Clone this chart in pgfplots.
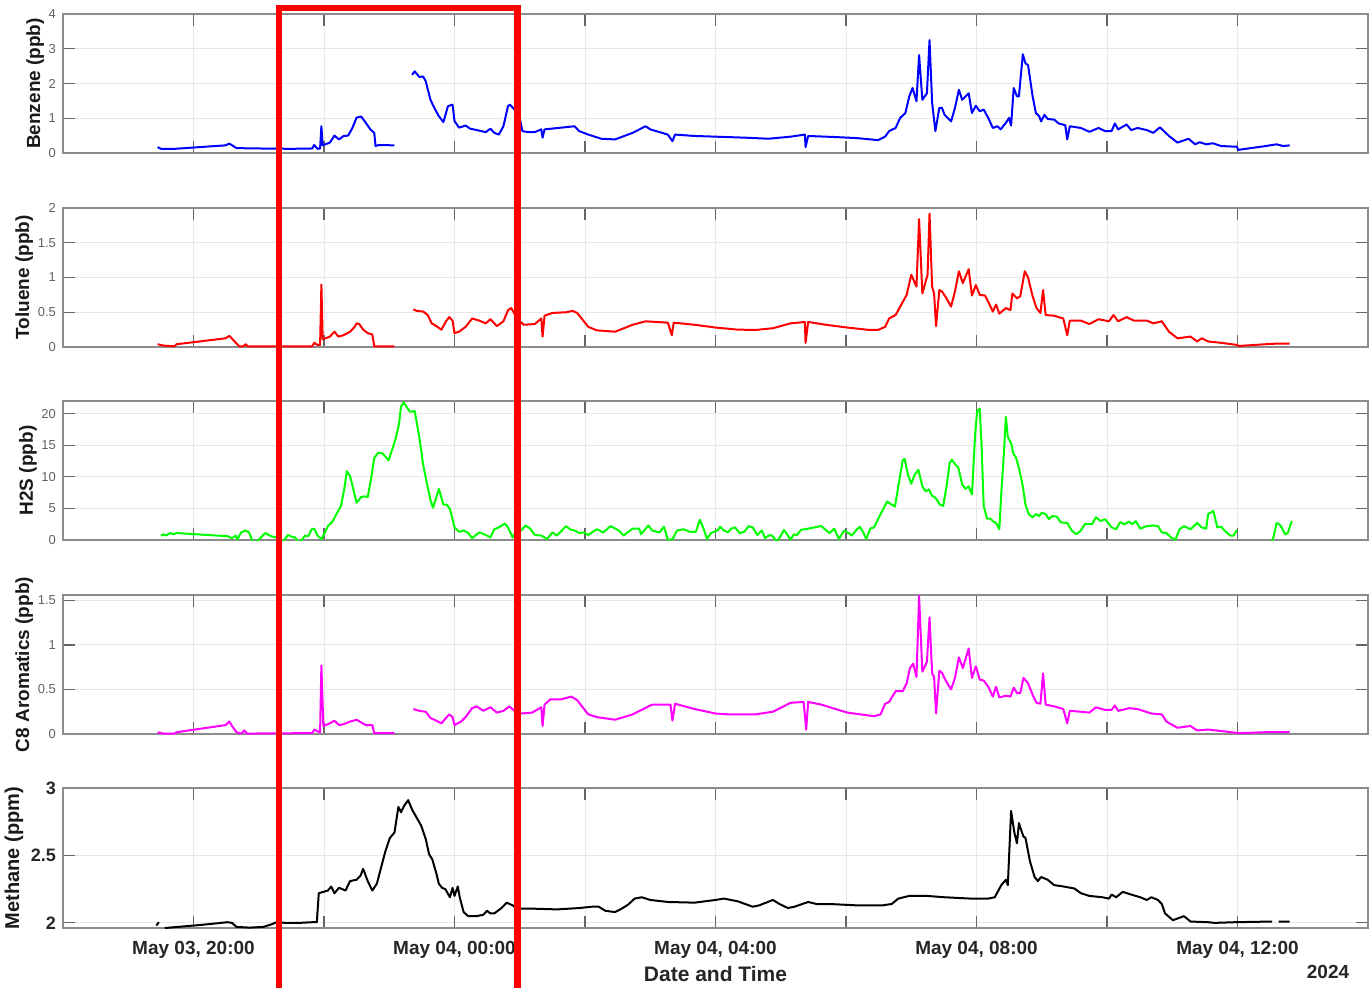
\documentclass[border=0pt]{standalone}
\usepackage{fontspec}
\setmainfont{Liberation Sans}
\usepackage{pgfplots}
\pgfplotsset{compat=1.18}
\definecolor{tickgray}{gray}{0.38}
\definecolor{boxgray}{gray}{0.55}
\definecolor{gridgray}{gray}{0.91}
\definecolor{mag}{rgb}{1,0,1}
\definecolor{grn}{rgb}{0,1,0}
\pgfplotsset{
 panel/.style={
  scale only axis, width=652.5pt, height=69.5pt, anchor=south west,
  xmin=18, xmax=38, xtick={20,22,...,36}, xticklabels={},
  grid=major, major grid style={draw=gridgray, line width=0.5pt},
  axis line style={draw=boxgray, line width=0.6pt},
  tick style={draw=gray!80!black, line width=0.6pt}, tick align=inside, major tick length=6pt,
  /pgf/number format/assume math mode=true,
  yticklabel style={font=\fontsize{6.5}{7}\selectfont, text=tickgray},
  ylabel style={font=\bfseries\fontsize{9.5}{10}\selectfont, text=black!90},
  ylabel shift=-4.5pt,
  unbounded coords=jump,
  every axis plot/.append style={line width=1pt, line join=round, mark=none},
 }
}
\begin{document}
\begin{tikzpicture}
\path[use as bounding box] (0,0) rectangle (685pt,493.5pt);
% Benzene
\begin{axis}[panel, at={(31.5pt,417pt)}, ymin=0, ymax=4, ytick={0,1,2,3,4}, ylabel={Benzene (ppb)}]
\addplot[blue] coordinates {(19.45,0.17)(19.50,0.12)(19.71,0.12)(20.49,0.22)(20.55,0.27)(20.66,0.14)(21.00,0.13)(21.50,0.12)(21.82,0.13)(21.85,0.23)(21.90,0.12)(21.94,0.13)(21.96,0.77)(21.98,0.22)(22.09,0.30)(22.16,0.50)(22.23,0.39)(22.30,0.49)(22.37,0.50)(22.43,0.70)(22.50,1.02)(22.57,1.05)(22.64,0.87)(22.71,0.68)(22.77,0.58)(22.79,0.20)(22.84,0.23)(23.08,0.22)(23.2,nan)
(23.35,2.25)(23.39,2.35)(23.46,2.19)(23.52,2.20)(23.56,2.06)(23.63,1.54)(23.69,1.30)(23.76,1.06)(23.83,0.89)(23.90,1.35)(23.97,1.39)(24.00,0.92)(24.07,0.73)(24.17,0.79)(24.24,0.70)(24.34,0.66)(24.48,0.60)(24.55,0.70)(24.61,0.58)(24.68,0.53)(24.75,0.77)(24.82,1.35)(24.85,1.39)(24.92,1.25)(24.99,1.10)(25.04,0.63)(25.13,0.60)(25.23,0.60)(25.33,0.68)(25.35,0.44)(25.38,0.68)(25.64,0.73)(25.84,0.77)(25.91,0.63)(26.05,0.53)(26.25,0.41)(26.46,0.39)(26.73,0.58)(26.93,0.77)(27.00,0.68)(27.27,0.53)(27.34,0.34)(27.38,0.53)(27.68,0.49)(28.00,0.47)(28.47,0.44)(28.81,0.41)(29.15,0.47)(29.37,0.53)(29.38,0.17)(29.42,0.49)(29.82,0.46)(30.16,0.43)(30.49,0.37)(30.60,0.47)(30.66,0.63)(30.76,0.72)(30.83,1.01)(30.91,1.15)(30.97,1.63)(31.02,1.87)(31.08,1.49)(31.12,2.82)(31.17,1.53)(31.24,1.72)(31.28,3.25)(31.32,1.44)(31.37,0.63)(31.43,1.30)(31.47,1.30)(31.51,1.10)(31.61,0.91)(31.67,1.30)(31.73,1.82)(31.78,1.53)(31.88,1.72)(31.93,1.15)(31.99,1.36)(32.05,1.20)(32.11,1.25)(32.18,1.01)(32.25,0.72)(32.32,0.77)(32.37,0.68)(32.45,0.87)(32.50,1.01)(32.53,0.79)(32.57,1.87)(32.62,1.63)(32.65,1.63)(32.71,2.84)(32.75,2.58)(32.79,2.53)(32.86,1.63)(32.91,1.15)(32.96,1.06)(32.99,0.91)(33.04,1.10)(33.09,0.98)(33.19,0.96)(33.26,0.85)(33.36,0.80)(33.39,0.39)(33.43,0.77)(33.60,0.72)(33.73,0.61)(33.87,0.72)(33.97,0.63)(34.07,0.63)(34.12,0.85)(34.17,0.68)(34.30,0.82)(34.37,0.66)(34.47,0.72)(34.61,0.66)(34.71,0.58)(34.81,0.74)(34.95,0.49)(35.08,0.30)(35.25,0.41)(35.35,0.25)(35.42,0.31)(35.52,0.25)(35.62,0.28)(35.75,0.20)(35.99,0.18)(36.01,0.09)(36.43,0.20)(36.60,0.25)(36.70,0.20)(36.80,0.22)};
\end{axis}
% Toluene
\begin{axis}[panel, at={(31.5pt,320pt)}, ymin=0, ymax=2, ytick={0,0.5,1,1.5,2}, ylabel={Toluene (ppb)}]
\addplot[red] coordinates {(19.45,0.04)(19.54,0.02)(19.71,0.01)(19.74,0.04)(20.49,0.125)(20.55,0.16)(20.63,0.08)(20.70,0.01)(20.76,0.01)(20.80,0.04)(20.83,0.01)(21.82,0.01)(21.85,0.06)(21.90,0.03)(21.94,0.03)(21.96,0.90)(21.98,0.11)(22.09,0.15)(22.16,0.22)(22.22,0.15)(22.30,0.17)(22.40,0.22)(22.47,0.29)(22.50,0.34)(22.54,0.33)(22.60,0.25)(22.67,0.20)(22.74,0.18)(22.77,0.01)(23.08,0.01)(23.2,nan)
(23.37,0.54)(23.42,0.52)(23.52,0.51)(23.59,0.46)(23.65,0.34)(23.69,0.32)(23.80,0.25)(23.87,0.37)(23.92,0.43)(23.97,0.38)(24.00,0.20)(24.07,0.22)(24.17,0.29)(24.27,0.41)(24.38,0.38)(24.48,0.34)(24.55,0.40)(24.65,0.30)(24.75,0.37)(24.82,0.53)(24.87,0.56)(24.96,0.41)(25.06,0.32)(25.23,0.33)(25.33,0.41)(25.35,0.15)(25.38,0.45)(25.50,0.49)(25.71,0.50)(25.81,0.52)(25.88,0.49)(26.05,0.29)(26.18,0.24)(26.46,0.22)(26.73,0.32)(26.93,0.37)(27.27,0.35)(27.33,0.17)(27.36,0.35)(27.68,0.32)(28.00,0.28)(28.34,0.25)(28.61,0.245)(28.88,0.27)(29.15,0.34)(29.37,0.36)(29.38,0.06)(29.42,0.36)(29.69,0.32)(30.02,0.28)(30.36,0.245)(30.49,0.245)(30.60,0.29)(30.66,0.41)(30.76,0.46)(30.83,0.58)(30.93,0.75)(31.00,1.04)(31.08,0.87)(31.12,1.84)(31.17,0.77)(31.25,1.04)(31.28,1.92)(31.32,0.87)(31.35,0.77)(31.38,0.30)(31.43,0.82)(31.47,0.80)(31.54,0.70)(31.61,0.58)(31.67,0.80)(31.73,1.09)(31.79,0.92)(31.88,1.12)(31.93,0.74)(31.99,0.89)(32.05,0.75)(32.13,0.74)(32.18,0.65)(32.25,0.51)(32.30,0.61)(32.35,0.48)(32.45,0.56)(32.52,0.53)(32.55,0.77)(32.62,0.70)(32.67,0.73)(32.74,1.09)(32.79,1.00)(32.86,0.73)(32.92,0.56)(32.98,0.49)(33.02,0.82)(33.06,0.46)(33.19,0.45)(33.33,0.41)(33.39,0.17)(33.43,0.38)(33.60,0.38)(33.73,0.33)(33.87,0.40)(34.03,0.37)(34.10,0.46)(34.17,0.37)(34.30,0.43)(34.41,0.38)(34.61,0.38)(34.71,0.34)(34.84,0.37)(34.95,0.22)(35.08,0.125)(35.28,0.15)(35.38,0.08)(35.45,0.125)(35.55,0.08)(35.75,0.06)(35.99,0.03)(36.02,0.015)(36.43,0.04)(36.63,0.05)(36.80,0.05)};
\end{axis}
% H2S
\begin{axis}[panel, at={(31.5pt,223.5pt)}, ymin=0, ymax=22, ytick={0,5,10,15,20}, ylabel={H2S (ppb)}]
\addplot[grn] coordinates {(19.50,0.7)(19.54,0.9)(19.58,0.7)(19.64,1.1)(19.69,0.9)(19.74,1.1)(20.52,0.6)(20.59,0.3)(20.65,0.7)(20.67,0.05)(20.73,1.2)(20.80,1.5)(20.85,1.2)(20.92,-0.5)(21.00,0.05)(21.10,1.1)(21.19,0.6)(21.27,0.4)(21.36,-0.4)(21.45,0.8)(21.51,0.5)(21.56,0.4)(21.62,-0.5)(21.67,0.15)(21.71,0.7)(21.76,0.6)(21.81,1.7)(21.85,1.8)(21.90,0.7)(21.96,0.15)(22.01,1.1)(22.06,2.2)(22.13,2.9)(22.19,4.1)(22.26,5.4)(22.31,8.0)(22.35,10.9)(22.40,10.1)(22.45,8.0)(22.50,5.9)(22.57,6.8)(22.62,6.9)(22.67,6.8)(22.72,9.6)(22.77,13.0)(22.83,13.8)(22.90,13.7)(22.94,13.2)(22.99,12.6)(23.05,14.5)(23.10,16.1)(23.15,18.4)(23.18,21.1)(23.22,21.8)(23.27,21.0)(23.32,20.3)(23.39,20.4)(23.46,16.3)(23.52,11.9)(23.58,8.8)(23.63,6.4)(23.67,5.1)(23.72,6.7)(23.76,8.1)(23.83,5.6)(23.88,5.6)(23.93,4.9)(24.00,2.0)(24.07,1.3)(24.14,1.5)(24.21,1.1)(24.27,0.3)(24.38,1.2)(24.48,0.8)(24.55,0.4)(24.61,1.7)(24.68,2.0)(24.77,2.6)(24.82,2.0)(24.89,0.4)(24.96,1.8)(25.02,1.5)(25.09,2.3)(25.16,1.8)(25.23,0.8)(25.33,0.7)(25.42,0.15)(25.50,1.2)(25.57,0.7)(25.71,2.2)(25.77,1.7)(25.84,1.5)(25.91,1.1)(25.98,1.2)(26.05,0.8)(26.18,1.7)(26.28,1.2)(26.39,2.2)(26.52,1.5)(26.59,0.7)(26.73,1.8)(26.83,1.8)(26.86,0.9)(26.97,2.3)(27.03,1.5)(27.14,1.2)(27.21,2.1)(27.27,0.05)(27.34,0.1)(27.41,1.5)(27.51,1.7)(27.61,1.3)
(27.70,1.3)(27.76,3.2)(27.81,2.0)(27.87,0.15)(27.93,1.1)(28.03,1.5)(28.07,2.1)(28.13,1.5)(28.19,1.2)(28.24,1.8)(28.30,2.0)(28.37,1.1)(28.44,1.3)(28.51,2.2)(28.57,2.0)(28.64,0.8)(28.71,1.5)(28.76,0.3)(28.80,0.6)(28.84,0.8)(28.89,0.5)(28.93,-0.3)(28.98,0.3)(29.05,1.6)(29.11,0.7)(29.15,0.05)(29.20,0.9)(29.25,0.8)(29.31,1.6)(29.42,1.8)(29.52,2.0)(29.62,2.2)(29.69,1.6)(29.75,1.1)(29.82,1.8)(29.89,0.15)(29.97,1.5)(30.04,1.1)(30.09,0.7)(30.16,1.6)(30.21,2.1)(30.26,1.3)(30.31,0.15)(30.37,1.8)(30.43,2.0)(30.53,4.1)(30.63,6.1)(30.70,5.6)(30.75,5.3)(30.81,9.0)(30.87,12.7)(30.90,12.8)(30.95,10.3)(31.00,8.9)(31.05,10.3)(31.11,11.1)(31.17,8.5)(31.22,7.7)(31.27,8.0)(31.32,7.0)(31.37,6.7)(31.44,5.6)(31.49,5.4)(31.54,8.5)(31.59,12.2)(31.62,12.7)(31.68,11.9)(31.72,11.5)(31.78,8.8)(31.83,8.1)(31.88,8.5)(31.93,7.2)(31.98,16.9)(32.01,20.4)(32.05,20.8)(32.08,14.3)(32.11,5.4)(32.16,3.4)(32.21,3.4)(32.26,2.9)(32.30,2.7)(32.35,1.7)(32.38,7.5)(32.42,13.7)(32.45,19.5)(32.48,16.3)(32.53,15.3)(32.57,13.5)(32.60,13.2)(32.65,11.4)(32.71,8.5)(32.75,5.6)(32.80,4.1)(32.86,3.6)(32.91,4.1)(32.96,3.8)(33.00,4.3)(33.06,4.1)(33.11,3.3)(33.16,3.8)(33.23,3.7)(33.29,2.8)(33.39,2.7)(33.46,1.5)(33.53,0.9)(33.60,1.5)(33.66,2.5)(33.77,2.5)(33.83,3.6)(33.90,3.0)(33.97,3.3)(34.07,2.0)(34.14,1.7)(34.20,2.8)(34.27,2.5)(34.34,2.9)(34.39,2.5)(34.44,3.0)(34.51,1.8)(34.61,2.2)(34.71,2.3)(34.78,2.2)(34.84,1.2)(34.91,1.1)(34.98,0.4)(35.05,0.05)(35.11,1.7)(35.18,2.2)(35.28,1.7)(35.38,2.7)(35.45,2.0)(35.52,1.8)(35.55,4.1)(35.63,4.6)(35.69,2.0)(35.75,2.1)(35.82,1.3)(35.89,0.7)(35.94,0.7)(35.99,1.6)(36.2,nan)(36.50,-1.0)(36.55,0.4)(36.60,2.7)(36.66,2.3)(36.73,0.9)(36.77,1.1)(36.83,3.0)};
\end{axis}
% C8 aromatics
\begin{axis}[panel, at={(31.5pt,126.5pt)}, ymin=0, ymax=1.56, ytick={0,0.5,1,1.5}, ylabel={C8 Aromatics (ppb)}]
\addplot[mag] coordinates {(19.45,0.02)(19.54,0.005)(19.71,0.005)(19.74,0.02)(20.49,0.10)(20.55,0.14)(20.59,0.09)(20.66,0.02)(20.73,0.005)(20.78,0.04)(20.82,0.005)(21.82,0.01)(21.85,0.05)(21.90,0.03)(21.94,0.02)(21.96,0.77)(21.99,0.09)(22.09,0.12)(22.16,0.15)(22.23,0.10)(22.30,0.11)(22.40,0.14)(22.50,0.16)(22.57,0.13)(22.64,0.10)(22.74,0.10)(22.77,0.01)(23.08,0.01)(23.2,nan)
(23.37,0.28)(23.46,0.26)(23.56,0.25)(23.63,0.18)(23.69,0.16)(23.80,0.12)(23.87,0.18)(23.92,0.22)(23.97,0.19)(24.00,0.10)(24.10,0.14)(24.17,0.19)(24.27,0.29)(24.34,0.31)(24.44,0.26)(24.55,0.30)(24.65,0.24)(24.75,0.26)(24.84,0.31)(24.92,0.26)(25.02,0.23)(25.19,0.24)(25.33,0.30)(25.35,0.09)(25.38,0.33)(25.47,0.39)(25.64,0.39)(25.79,0.42)(25.88,0.38)(26.05,0.22)(26.18,0.19)(26.46,0.16)(26.73,0.22)(27.03,0.33)(27.31,0.33)(27.34,0.15)(27.38,0.34)(27.68,0.28)(28.00,0.23)(28.20,0.22)(28.61,0.22)(28.88,0.25)(29.15,0.35)(29.35,0.36)(29.39,0.05)(29.42,0.36)(29.62,0.33)(30.02,0.24)(30.43,0.20)(30.53,0.22)(30.60,0.34)(30.66,0.36)(30.76,0.48)(30.87,0.48)(30.93,0.57)(30.98,0.74)(31.03,0.79)(31.08,0.64)(31.12,1.55)(31.17,0.70)(31.24,0.81)(31.28,1.31)(31.32,0.68)(31.35,0.64)(31.38,0.23)(31.43,0.71)(31.47,0.69)(31.52,0.61)(31.61,0.50)(31.67,0.63)(31.73,0.86)(31.79,0.74)(31.88,0.96)(31.93,0.63)(31.99,0.76)(32.05,0.61)(32.11,0.60)(32.18,0.53)(32.25,0.42)(32.30,0.53)(32.35,0.41)(32.45,0.43)(32.52,0.42)(32.57,0.52)(32.62,0.46)(32.67,0.46)(32.72,0.63)(32.79,0.57)(32.86,0.44)(32.92,0.35)(32.98,0.34)(33.02,0.68)(33.06,0.33)(33.19,0.31)(33.33,0.28)(33.39,0.12)(33.43,0.26)(33.60,0.25)(33.73,0.24)(33.83,0.30)(33.97,0.27)(34.07,0.27)(34.12,0.32)(34.17,0.26)(34.34,0.29)(34.47,0.28)(34.68,0.23)(34.84,0.22)(34.91,0.14)(35.08,0.07)(35.28,0.09)(35.38,0.04)(35.55,0.05)(35.79,0.03)(36.02,0.01)(36.43,0.02)(36.80,0.02)};
\end{axis}
% Methane
\begin{axis}[panel, at={(31.5pt,29.5pt)}, height=70pt, ymin=1.962, ymax=3, ytick={2,2.5,3},
  ylabel={Methane (ppm)}, ylabel style={font=\bfseries\fontsize{10}{11}\selectfont}, ylabel shift=-3pt,
  yticklabel style={font=\bfseries\fontsize{9}{10}\selectfont, text=black!85},
  xticklabels={{May 03, 20:00},{},{May 04, 00:00},{},{May 04, 04:00},{},{May 04, 08:00},{},{May 04, 12:00}},
  xticklabel style={font=\bfseries\fontsize{9.5}{10}\selectfont, text=black!85, yshift=-3pt},
  xlabel={Date and Time}, xlabel style={font=\bfseries\fontsize{10.5}{11}\selectfont, text=black!85, yshift=3pt}]
\addplot[black] coordinates {(19.43,1.98)(19.47,2.005)(19.52,nan)(19.56,1.962)(20.12,1.985)(20.52,2.005)(20.59,2.0)(20.66,1.97)(20.86,1.965)(21.07,1.97)(21.20,1.99)(21.27,2.005)(21.41,2.0)(21.62,2.0)(21.82,2.005)(21.89,2.005)(21.92,2.22)(21.99,2.23)(22.06,2.24)(22.11,2.27)(22.16,2.22)(22.23,2.26)(22.33,2.24)(22.40,2.31)(22.50,2.32)(22.56,2.35)(22.60,2.40)(22.67,2.31)(22.74,2.24)(22.81,2.29)(22.88,2.42)(22.94,2.53)(23.01,2.63)(23.08,2.67)(23.14,2.86)(23.18,2.82)(23.23,2.87)(23.29,2.91)(23.35,2.84)(23.42,2.78)(23.49,2.72)(23.56,2.62)(23.61,2.51)(23.66,2.47)(23.72,2.37)(23.76,2.29)(23.81,2.26)(23.86,2.25)(23.93,2.19)(23.97,2.26)(24.00,2.20)(24.05,2.27)(24.08,2.19)(24.14,2.08)(24.21,2.05)(24.34,2.05)(24.44,2.06)(24.50,2.09)(24.55,2.07)(24.61,2.07)(24.72,2.11)(24.80,2.15)(24.89,2.13)(24.96,2.105)(25.23,2.105)(25.57,2.10)(25.91,2.11)(26.11,2.12)(26.21,2.12)(26.31,2.09)(26.46,2.08)(26.56,2.105)(26.66,2.135)(26.76,2.18)(26.87,2.19)(27.00,2.17)(27.27,2.155)(27.68,2.15)(28.00,2.17)(28.13,2.18)(28.34,2.16)(28.57,2.12)(28.67,2.13)(28.88,2.17)(28.98,2.14)(29.11,2.11)(29.21,2.12)(29.42,2.155)(29.55,2.14)(29.75,2.14)(30.16,2.13)(30.56,2.13)(30.70,2.14)(30.80,2.18)(30.97,2.20)(31.24,2.20)(31.51,2.19)(31.91,2.18)(32.18,2.18)(32.28,2.19)(32.38,2.28)(32.45,2.32)(32.48,2.28)(32.53,2.83)(32.58,2.67)(32.62,2.59)(32.65,2.74)(32.69,2.68)(32.72,2.64)(32.75,2.63)(32.82,2.455)(32.89,2.34)(32.94,2.31)(32.99,2.34)(33.09,2.32)(33.19,2.28)(33.33,2.27)(33.50,2.255)(33.60,2.22)(33.73,2.20)(33.93,2.19)(34.03,2.18)(34.07,2.21)(34.14,2.19)(34.24,2.23)(34.37,2.21)(34.51,2.19)(34.61,2.17)(34.68,2.19)(34.78,2.17)(34.84,2.14)(34.89,2.07)(35.01,2.02)(35.18,2.05)(35.28,2.01)(35.55,2.005)(35.65,2.0)(35.96,2.005)(36.53,2.01)(36.58,nan)(36.63,2.01)(36.80,2.01)};
\end{axis}
\node[font=\bfseries\fontsize{9.5}{10}\selectfont, text=black!85] at (664pt,7.5pt) {2024};
\draw[red, line width=3.25pt] (139.5pt,-6pt) -- (139.5pt,489.5pt) -- (258.75pt,489.5pt) -- (258.75pt,-6pt);
\end{tikzpicture}
\end{document}
